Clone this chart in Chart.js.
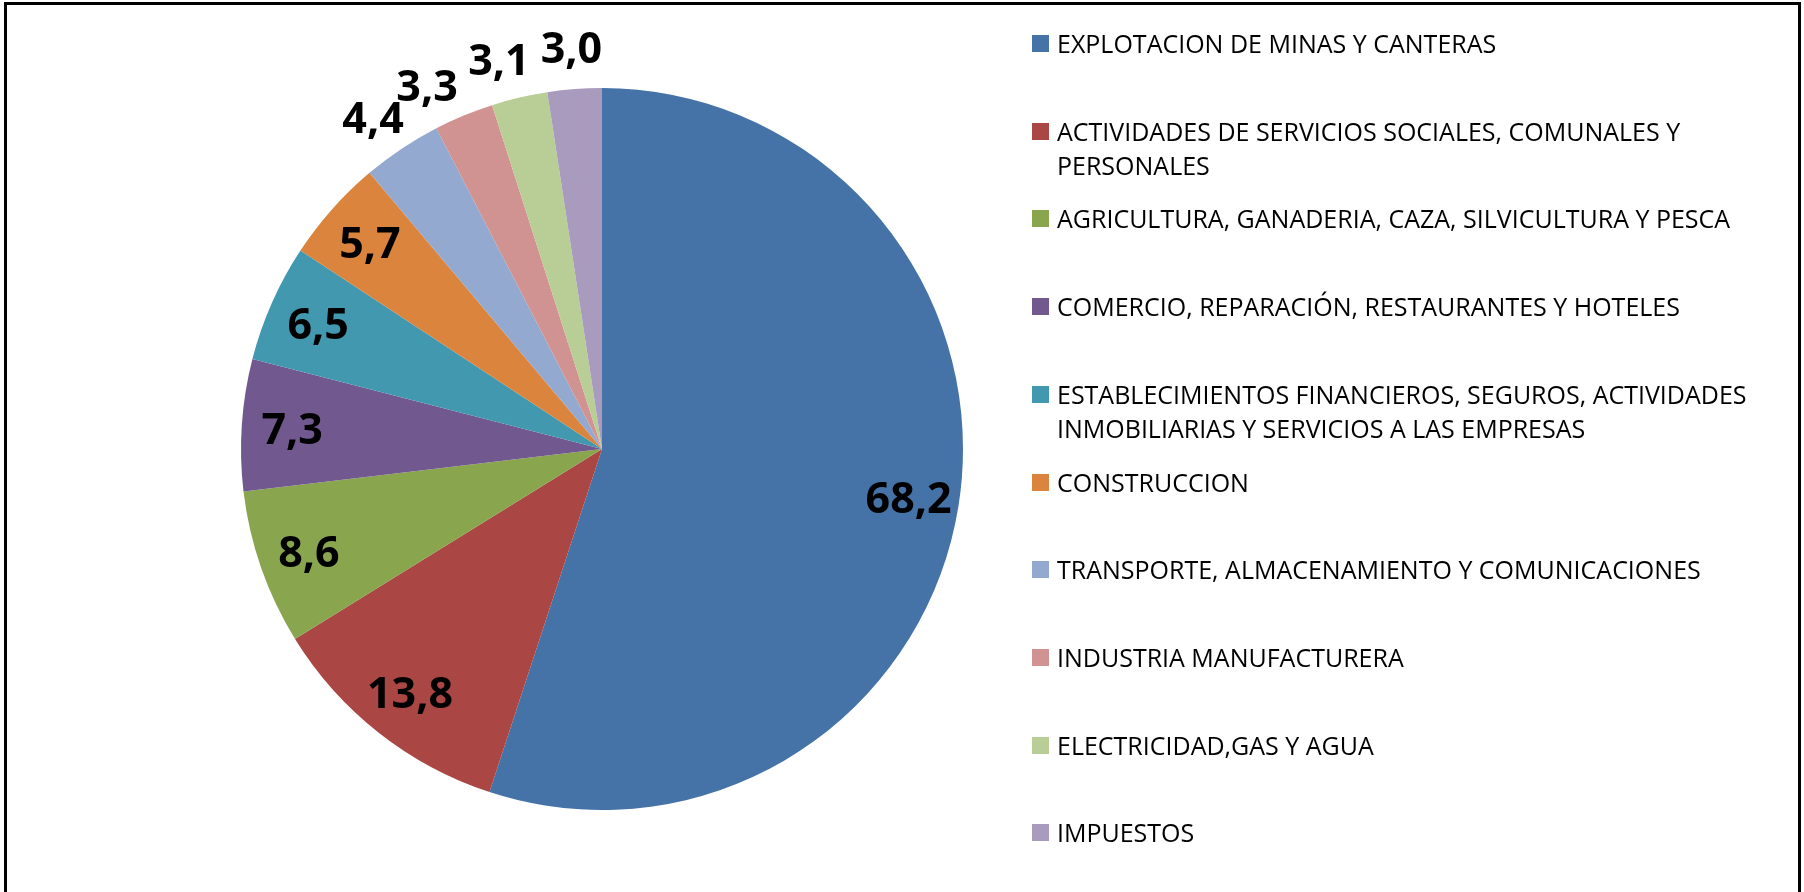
<!DOCTYPE html>
<html>
<head>
<meta charset="utf-8">
<script src="https://cdn.jsdelivr.net/npm/chart.js@4.4.1/dist/chart.umd.min.js"></script>
<style>
  html, body { margin: 0; padding: 0; background: #fff; }
  #wrap { position: relative; width: 1804px; height: 892px; overflow: hidden; }
  #frame {
    position: absolute; left: 4px; top: 2px; width: 1797px; height: 900px;
    border: 3px solid #000; box-sizing: border-box;
  }
  #chart { position: absolute; left: 0; top: 0; }
  #legend { position: absolute; left: 1032px; top: 0; }
  .item { position: absolute; left: 0; white-space: nowrap;
    font-family: "Open Sans", sans-serif; font-size: 25px; line-height: 34px; color: #000; }
  .box { position: absolute; left: 0; top: 9px; width: 17px; height: 17px; }
  .txt { position: absolute; left: 25px; top: 0; }
</style>
</head>
<body>
<div id="wrap">
  <div id="frame"></div>
  <canvas id="chart" width="1804" height="892"></canvas>
  <div id="legend"></div>
</div>
<script>
const categories = [
  "EXPLOTACION DE MINAS Y CANTERAS",
  ["ACTIVIDADES DE SERVICIOS SOCIALES, COMUNALES Y", "PERSONALES"],
  "AGRICULTURA, GANADERIA, CAZA, SILVICULTURA Y PESCA",
  "COMERCIO, REPARACIÓN, RESTAURANTES Y HOTELES",
  ["ESTABLECIMIENTOS FINANCIEROS, SEGUROS, ACTIVIDADES", "INMOBILIARIAS Y SERVICIOS A LAS EMPRESAS"],
  "CONSTRUCCION",
  "TRANSPORTE, ALMACENAMIENTO Y COMUNICACIONES",
  "INDUSTRIA MANUFACTURERA",
  "ELECTRICIDAD,GAS Y AGUA",
  "IMPUESTOS"
];
const values = [68.2, 13.8, 8.6, 7.3, 6.5, 5.7, 4.4, 3.3, 3.1, 3.0];
const colors = ["#4572A7", "#AA4643", "#89A54E", "#71588F", "#4198AF",
                "#DB843D", "#93A9CF", "#D19392", "#B9CD96", "#A99BBD"];

function fmt(v) {
  return v.toFixed(1).replace(".", ",");
}

// value labels: inside for the big slices, just outside for the small ones
const sliceLabels = {
  id: "sliceLabels",
  afterDatasetsDraw(chart) {
    const ctx = chart.ctx;
    const meta = chart.getDatasetMeta(0);
    const size = 43, capH = size * 0.72, gap = 10;
    ctx.save();
    ctx.font = "bold " + size + "px 'Open Sans', sans-serif";
    ctx.fillStyle = "#000";
    ctx.textAlign = "center";
    ctx.textBaseline = "alphabetic";

    const placed = [];
    // go from the last slice backwards so the small outside labels push each other away
    for (let i = meta.data.length - 1; i >= 0; i--) {
      const p = meta.data[i].getProps(["x", "y", "startAngle", "endAngle", "outerRadius"], true);
      const text = fmt(values[i]);
      const w = ctx.measureText(text).width;
      let a = (p.startAngle + p.endAngle) / 2;
      const inside = values[i] >= 5;
      const dist = inside ? p.outerRadius * 0.86 : p.outerRadius + 42;
      let cx, cy;
      for (let k = 0; k < 200; k++) {
        cx = p.x + Math.cos(a) * dist;
        cy = p.y + Math.sin(a) * dist;
        const hit = !inside && placed.some(b =>
          cx - w / 2 - gap < b.x + b.w / 2 && cx + w / 2 + gap > b.x - b.w / 2 &&
          Math.abs(cy - b.y) < capH);
        if (!hit) break;
        a -= 0.004;
      }
      placed.push({ x: cx, y: cy, w: w });
      ctx.fillText(text, cx, cy + size * 0.36);
    }
    ctx.restore();
  }
};

new Chart(document.getElementById("chart"), {
  type: "pie",
  data: {
    labels: categories,
    datasets: [{
      data: values,
      backgroundColor: colors,
      borderWidth: 0
    }]
  },
  options: {
    responsive: false,
    animation: false,
    layout: { padding: { left: 241, right: 841, top: 88, bottom: 82 } },
    plugins: {
      legend: { display: false },
      tooltip: { enabled: false }
    }
  },
  plugins: [sliceLabels]
});

// legend on the right
const legend = document.getElementById("legend");
categories.forEach((cat, i) => {
  const lines = Array.isArray(cat) ? cat : [cat];
  const item = document.createElement("div");
  item.className = "item";
  item.style.top = (26 + i * 87.7) + "px";
  item.innerHTML = `<div class="box" style="background:${colors[i]}"></div>
    <div class="txt">${lines.join("<br>")}</div>`;
  legend.appendChild(item);
});
</script>
</body>
</html>
